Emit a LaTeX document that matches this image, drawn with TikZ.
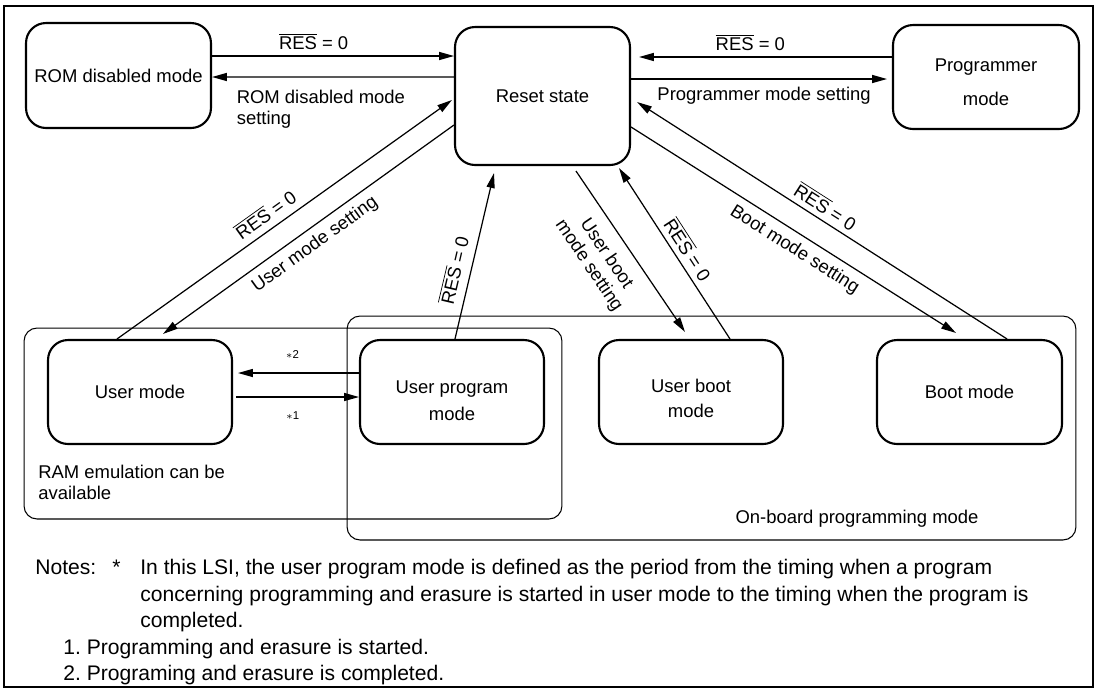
\documentclass[tikz,border=0pt]{standalone}
\usepackage{fontspec}
\setmainfont{Liberation Sans}
\usetikzlibrary{arrows.meta,calc}

\newcommand{\resz}{$\overline{\mbox{RES}}$ = 0}

\begin{document}
\begin{tikzpicture}[
    x=0.02cm, y=-0.02cm,
    mode/.style={draw, line width=1.2pt, rounded corners=0.4cm, minimum width=3.7cm, minimum height=2.08cm, align=center, font=\fontsize{10.5}{12}\selectfont},
    group/.style={draw, line width=0.6pt, rounded corners=0.26cm, inner sep=0pt},
    arr/.style={-{Triangle[length=8.5pt,width=4.6pt]}, line width=0.7pt},
    lbl/.style={font=\fontsize{10.5}{12}\selectfont, inner sep=3pt},
    tag/.style={font=\fontsize{6.5}{8}\selectfont, inner sep=3pt},
    note/.style={font=\fontsize{12}{15}\selectfont, inner sep=0pt, anchor=base west}
]
\useasboundingbox (0,0) rectangle (1102,691);
\draw[line width=1.4pt] (4,6) rectangle (1093,687);

% states
\node[mode, minimum height=2.1cm] (rom) at (118.5,75.5) {ROM disabled mode};
\node[mode, minimum width=3.5cm, minimum height=2.76cm] (reset) at (542.5,96) {Reset state};
\node[mode, minimum width=3.72cm] (prog) at (986,77) {\rule{0pt}{13pt}Programmer\\[7pt]mode};
\node[mode, minimum width=3.68cm] (umode) at (140,392) {User mode};
\node[mode, minimum width=3.68cm] (upm) at (452,392) {\rule{0pt}{17pt}User program\\[3.4pt]mode};
\node[mode, minimum width=3.68cm] (ubm) at (691,392) {\rule{0pt}{15pt}User boot\\[2.2pt]mode};
\node[mode] (boot) at (969.5,392) {Boot mode};

% groups
\node[group, minimum width=10.76cm, minimum height=3.82cm] (ram) at (293,423.5) {};
\node[group, minimum width=14.58cm, minimum height=4.48cm] (onboard) at (711.5,428) {};
\node[lbl, inner sep=0pt, anchor=west, align=left] (ramtxt) at (38,482.5) {RAM emulation can be\\available};
\node[lbl, inner sep=0pt] (obtxt) at (857,519) {On-board programming mode};

% top row
\draw[arr] ($(rom.east)+(0,-19.5)$) -- ($(reset.west)+(0,-40)$) node[lbl, pos=0.42, above] {\resz};
\draw[arr] ($(reset.west)+(0,-19)$) -- ($(rom.east)+(0,1.5)$) node[lbl, pos=0.55, below=4pt, align=left] {ROM disabled mode\\setting};
\draw[arr] ($(prog.west)+(0,-20)$) -- ($(reset.east)+(8,-39)$) node[lbl, pos=0.56, above] {\resz};
\draw[arr] ($(reset.east)+(0,-17)$) -- ($(prog.west)+(-5,2)$) node[lbl, pos=0.52, below=1.5pt] {Programmer mode setting};

% diagonals
\draw[arr] ($(umode.north)+(-23,0)$) -- ($(reset.west)+(-2,4)$) node[lbl, pos=0.47, sloped, above=1pt] {\resz};
\draw[arr] ($(reset.west)+(0,29)$) -- ($(umode.north)+(23,-5)$) node[lbl, pos=0.51, sloped, below=1pt] {User mode setting};
\draw[arr] ($(upm.north)+(3,0)$) -- ($(reset.south)+(-48.5,7)$) node[lbl, pos=0.39, sloped, above=1.8pt] {\resz};
\draw[arr] ($(reset.south)+(33.5,5)$) -- ($(ubm.north)+(-6,-7)$) node[lbl, pos=0.44, sloped, below=4pt, align=center] {User boot\\mode setting};
\draw[arr] ($(ubm.north)+(39,0)$) -- ($(reset.south)+(76.5,2)$) node[lbl, pos=0.48, sloped, above] {\resz};
\draw[arr] ($(reset.east)+(0,31)$) -- ($(boot.north)+(-13.5,-6)$) node[lbl, pos=0.53, sloped, below=1pt] {Boot mode setting};
\draw[arr] ($(boot.north)+(37.5,0)$) -- ($(reset.east)+(6,6)$) node[lbl, pos=0.51, sloped, above] {\resz};

% user mode <-> user program mode
\draw[arr] ($(upm.west)+(0,-19)$) -- ($(umode.east)+(5,-19)$) node[tag, pos=0.55, above=5pt] {$\ast$2};
\draw[arr] ($(umode.east)+(3,5)$) -- ($(upm.west)+(0,5)$) node[tag, pos=0.46, below=5pt] {$\ast$1};

% notes
\node[note] (notes) at (35,574) {Notes:};
\node[note] (star) at (112,574) {*};
\node[note] (n1) at (140,574) {In this LSI, the user program mode is defined as the period from the timing when a program};
\node[note] (n2) at (140,601) {concerning programming and erasure is started in user mode to the timing when the program is};
\node[note] (n3) at (140,627) {completed.};
\node[note] (n4) at (63,654) {1.\ Programming and erasure is started.};
\node[note] (n5) at (63,680) {2.\ Programing and erasure is completed.};
\end{tikzpicture}
\end{document}
